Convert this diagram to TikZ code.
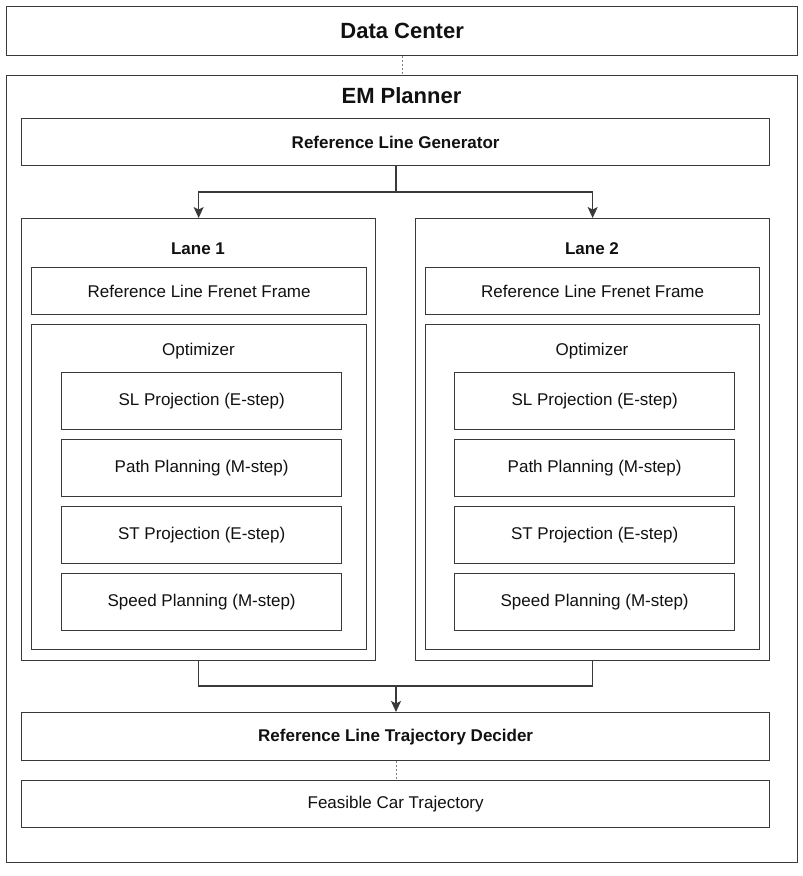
\documentclass[tikz,border=0pt]{standalone}
\usepackage{fontspec}
\setmainfont{Liberation Sans}
\usetikzlibrary{arrows.meta}
\definecolor{linec}{HTML}{3A3A3A}
\definecolor{txtc}{HTML}{111111}
\tikzset{
  box/.style={draw=linec, line width=1.3pt, inner sep=0pt, anchor=north west, text=txtc},
  t/.style={font=\fontsize{17}{20}\selectfont},
  tb/.style={font=\bfseries\fontsize{17}{20}\selectfont},
  big/.style={font=\bfseries\fontsize{22}{26}\selectfont},
  ttl/.style={text=txtc, inner sep=0pt},
  conn/.style={draw=linec, line width=1.3pt},
  arr/.style={conn, -{Stealth[length=11pt,width=10pt,inset=2.5pt]}},
  dashline/.style={draw=gray, line width=1pt, dash pattern=on 2pt off 2pt},
}
\begin{document}
\begin{tikzpicture}[x=1pt,y=-1pt]
\useasboundingbox[fill=white] (0,0) rectangle (803,876);
% top
\node[box, big, minimum width=791pt, minimum height=49pt] (dc) at (6,6) {Data Center};
\node[box, minimum width=791pt, minimum height=787pt] (em) at (6,75) {};
\node[ttl, big] (emt) at (401.5,96) {EM Planner};
\node[box, tb, minimum width=748pt, minimum height=47pt] (rlg) at (21,118) {Reference Line Generator};
% lane 1
\node[box, minimum width=354pt, minimum height=442pt] (lane1) at (21,218) {};
\node[ttl, tb] (l1t) at (198,249) {Lane 1};
\node[box, t, minimum width=335pt, minimum height=47pt] (fr1) at (31,267) {Reference Line Frenet Frame};
\node[box, minimum width=335pt, minimum height=325pt] (opt1) at (31,324) {};
\node[ttl, t] (o1t) at (198.5,351) {Optimizer};
\node[box, t, minimum width=280pt, minimum height=57pt] (sl1) at (61,372) {SL Projection (E-step)};
\node[box, t, minimum width=280pt, minimum height=57pt] (pp1) at (61,439) {Path Planning (M-step)};
\node[box, t, minimum width=280pt, minimum height=57pt] (st1) at (61,506) {ST Projection (E-step)};
\node[box, t, minimum width=280pt, minimum height=57pt] (sp1) at (61,573) {Speed Planning (M-step)};
% lane 2
\node[box, minimum width=354pt, minimum height=442pt] (lane2) at (415,218) {};
\node[ttl, tb] (l2t) at (592,249) {Lane 2};
\node[box, t, minimum width=334pt, minimum height=47pt] (fr2) at (425,267) {Reference Line Frenet Frame};
\node[box, minimum width=334pt, minimum height=325pt] (opt2) at (425,324) {};
\node[ttl, t] (o2t) at (592,351) {Optimizer};
\node[box, t, minimum width=280pt, minimum height=57pt] (sl2) at (454,372) {SL Projection (E-step)};
\node[box, t, minimum width=280pt, minimum height=57pt] (pp2) at (454,439) {Path Planning (M-step)};
\node[box, t, minimum width=280pt, minimum height=57pt] (st2) at (454,506) {ST Projection (E-step)};
\node[box, t, minimum width=280pt, minimum height=57pt] (sp2) at (454,573) {Speed Planning (M-step)};
% bottom
\node[box, tb, minimum width=748pt, minimum height=48pt] (rtd) at (21,712) {Reference Line Trajectory Decider};
\node[box, t, minimum width=748pt, minimum height=47pt] (fct) at (21,780) {Feasible Car Trajectory};
% connectors
\draw[dashline] (dc.south) -- (em.north);
\coordinate (split) at (396,192);
\draw[conn] (rlg.south -| split) -- (split);
\draw[arr] (split) -| (lane1.north);
\draw[arr] (split) -| (lane2.north);
\coordinate (merge) at (396,686);
\draw[conn] (lane1.south) |- (merge) -| (lane2.south);
\draw[arr] (merge) -- (rtd.north -| merge);
\draw[dashline] (rtd.south -| merge) -- (fct.north -| merge);
\end{tikzpicture}
\end{document}
